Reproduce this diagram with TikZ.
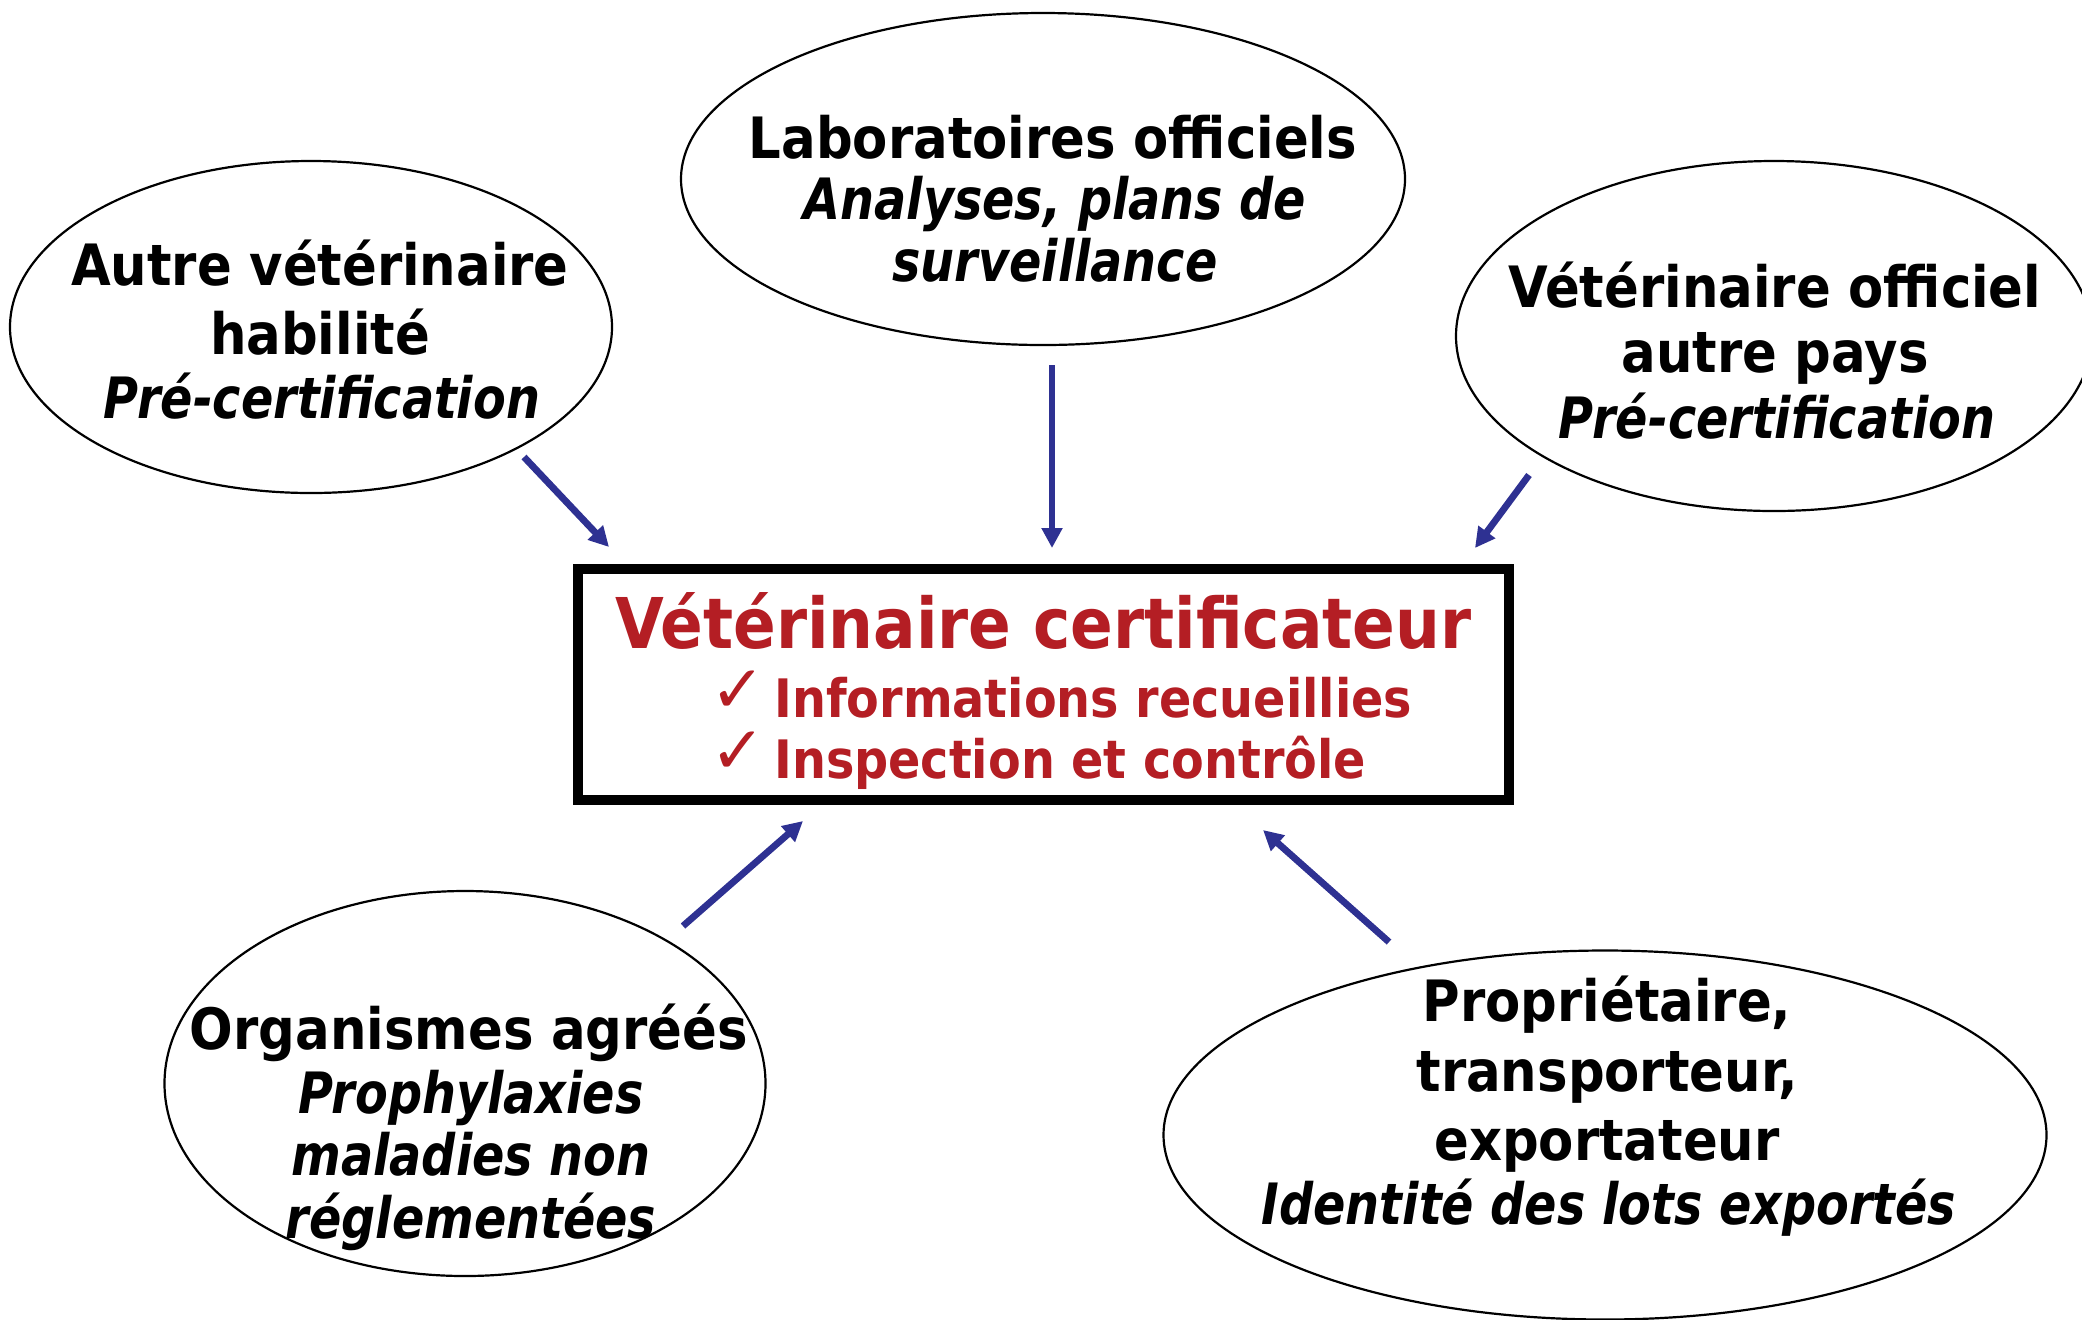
\documentclass[tikz,border=0pt]{standalone}
\usepackage{fontspec}
\setmainfont{DejaVu Sans Condensed}[
  BoldFont={DejaVu Sans Condensed Bold},
  ItalicFont={DejaVu Sans Condensed Oblique},
  BoldItalicFont={DejaVu Sans Condensed Bold Oblique}]
\newfontfamily\slantfont{DejaVu Sans Condensed Bold Oblique}[FakeStretch=0.93]
\newfontfamily\symfont{DejaVu Sans}
\usetikzlibrary{shapes.geometric,arrows.meta}
\definecolor{arrowblue}{RGB}{46,49,146}
\definecolor{certred}{RGB}{180,30,36}
\begin{document}
\begin{tikzpicture}[x=0.5pt,y=-0.5pt,
  oval/.style={ellipse, draw=black, line width=1.1pt, inner sep=0pt},
  centrebox/.style={rectangle, draw=black, line width=5pt, inner sep=0pt, fill=white},
  lbl/.style={anchor=base, inner sep=0pt, font=\fontsize{28.5}{34}\selectfont\bfseries},
  lbli/.style={anchor=base, inner sep=0pt, font=\fontsize{28.5}{34}\selectfont\slantfont},
  title/.style={anchor=base, inner sep=0pt, text=certred, font=\fontsize{35}{40}\selectfont\bfseries},
  item/.style={anchor=base west, inner sep=0pt, text=certred, font=\fontsize{26.5}{30}\selectfont\bfseries},
  tick/.style={anchor=base west, inner sep=0pt, text=certred, font=\fontsize{33}{36}\selectfont\symfont},
  feed/.style={draw=arrowblue, line width=3.4pt, -{Triangle[width=10pt,length=10pt]}}]

\useasboundingbox (0,0) rectangle (2082,1319);
\clip (0,0) rectangle (2082,1319);

% surrounding actors
\node[oval, minimum width=301pt, minimum height=166pt] (autre) at (311,327) {};
\node[oval, minimum width=362pt, minimum height=166pt] (labo) at (1043,179) {};
\node[oval, minimum width=318pt, minimum height=175pt] (etranger) at (1774,336) {};
\node[oval, minimum width=300.5pt, minimum height=192.5pt] (orga) at (465,1083.5) {};
\node[oval, minimum width=441.5pt, minimum height=184.5pt] (proprio) at (1605,1135) {};

% central box
\node[centrebox, minimum width=465.5pt, minimum height=115.5pt] (certif) at (1043.5,684.5) {};

% labels of the actors
\node[lbl]  (autre1) at (320,285) {Autre vétérinaire};
\node[lbl]  (autre2) at (320,354) {habilité};
\node[lbli] (autre3) at (322,418) {Pré-certification};

\node[lbl]  (labo1) at (1053,158) {Laboratoires officiels};
\node[lbli] (labo2) at (1055,219) {Analyses, plans de};
\node[lbli] (labo3) at (1055,281) {surveillance};

\node[lbl]  (etr1) at (1775,307) {Vétérinaire officiel};
\node[lbl]  (etr2) at (1775,372) {autre pays};
\node[lbli] (etr3) at (1777,438) {Pré-certification};

\node[lbl]  (orga1) at (469,1049) {Organismes agréés};
\node[lbli] (orga2) at (471,1113) {Prophylaxies};
\node[lbli] (orga3) at (471,1175) {maladies non};
\node[lbli] (orga4) at (471,1238) {réglementées};

\node[lbl]  (prop1) at (1607,1021) {Propriétaire,};
\node[lbl]  (prop2) at (1607,1091) {transporteur,};
\node[lbl]  (prop3) at (1607,1160) {exportateur};
\node[lbli] (prop4) at (1609,1224) {Identité des lots exportés};

% content of the central box
\node[title] (titre) at (1043.5,648) {Vétérinaire certificateur};
\node[tick] (tick1) at (710,712) {✓};
\node[item] (item1) at (774,717) {Informations recueillies};
\node[tick] (tick2) at (710,773) {✓};
\node[item] (item2) at (774,778) {Inspection et contrôle};

% arrow ends
\coordinate (a1s) at (524,457);  \coordinate (a1e) at (609,547);
\coordinate (a2s) at (1052,365); \coordinate (a2e) at (1052,548);
\coordinate (a3s) at (1529,475); \coordinate (a3e) at (1475,548);
\coordinate (a4s) at (683,926);  \coordinate (a4e) at (803,821);
\coordinate (a5s) at (1389,942); \coordinate (a5e) at (1263,830);

\draw[feed] (a1s) -- (a1e);
\draw[feed] (a2s) -- (a2e);
\draw[feed] (a3s) -- (a3e);
\draw[feed] (a4s) -- (a4e);
\draw[feed] (a5s) -- (a5e);
\end{tikzpicture}
\end{document}
